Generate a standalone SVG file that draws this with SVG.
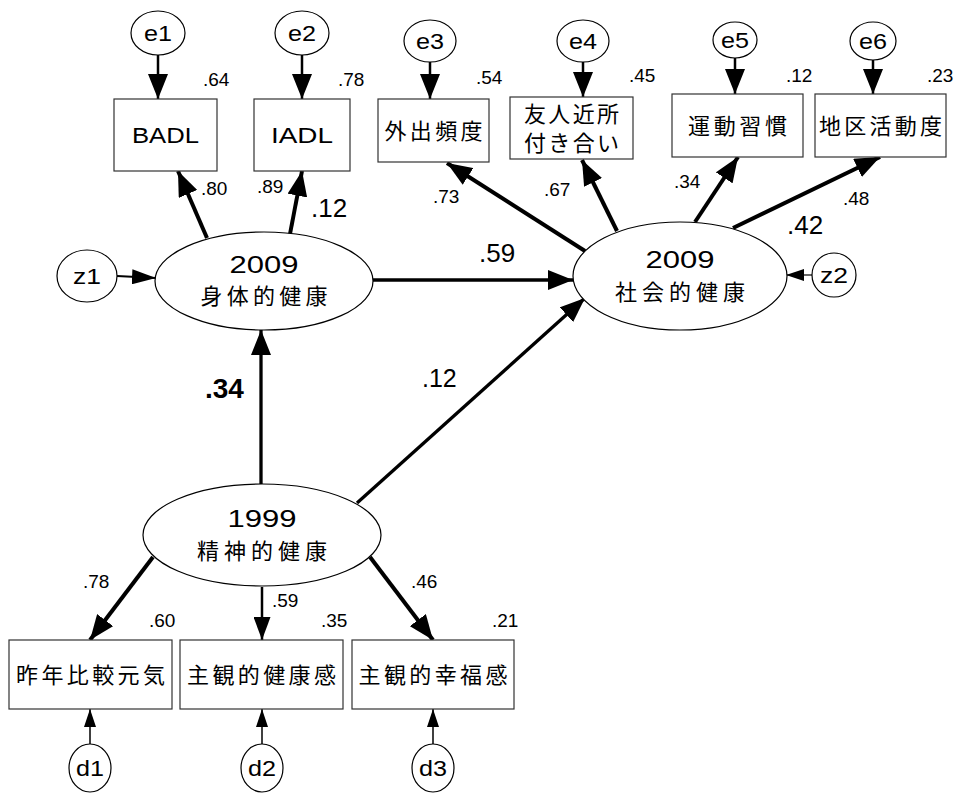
<svg xmlns="http://www.w3.org/2000/svg" width="957" height="794" viewBox="0 0 957 794">
<style>
.bg{fill:#fff}
.box{fill:#fff;stroke:#333;stroke-width:1.2}
.lat{fill:#fff;stroke:#000;stroke-width:1.2}
.jp{font-family:"Noto Sans CJK JP","Liberation Sans",sans-serif;font-size:22px;fill:#000;text-anchor:middle}
.lt{font-family:"Liberation Sans","DejaVu Sans",sans-serif;fill:#000}
.mid{text-anchor:middle}
.cl{font-size:22px;text-anchor:middle}
.sm{font-size:19px}
.lg{font-size:26px}
.a{fill:none;stroke:#000}
.w4{stroke-width:4}
.w3{stroke-width:3.3}
.w25{stroke-width:2.5}
.w15{stroke-width:1.5}
</style>
<defs>
<marker id="hb" markerUnits="userSpaceOnUse" viewBox="0 0 25 20" refX="25" refY="10" markerWidth="25" markerHeight="20" orient="auto"><path d="M0,0 L25,10 L0,20 z" fill="#000"/></marker>
<marker id="hm" markerUnits="userSpaceOnUse" viewBox="0 0 23 17" refX="23" refY="8.5" markerWidth="23" markerHeight="17" orient="auto"><path d="M0,0 L23,8.5 L0,17 z" fill="#000"/></marker>
<marker id="hz" markerUnits="userSpaceOnUse" viewBox="0 0 24 15" refX="24" refY="7.5" markerWidth="24" markerHeight="15" orient="auto"><path d="M0,0 L24,7.5 L0,15 z" fill="#000"/></marker>
<marker id="hs" markerUnits="userSpaceOnUse" viewBox="0 0 18 12" refX="18" refY="6" markerWidth="18" markerHeight="12" orient="auto"><path d="M0,0 L18,6 L0,12 z" fill="#000"/></marker>
</defs>
<rect class="bg" x="0" y="0" width="957" height="794"/>

<g id="connectors">
<line class="a w25" x1="158" y1="55" x2="158" y2="99" marker-end="url(#hb)"/>
<line class="a w25" x1="302" y1="55" x2="302" y2="99" marker-end="url(#hb)"/>
<line class="a w25" x1="430" y1="62" x2="430" y2="99" marker-end="url(#hb)"/>
<line class="a w25" x1="583" y1="62" x2="583" y2="97" marker-end="url(#hb)"/>
<line class="a w25" x1="735" y1="58" x2="735" y2="94" marker-end="url(#hb)"/>
<line class="a w25" x1="873" y1="60" x2="873" y2="94" marker-end="url(#hb)"/>
<line class="a w4" x1="207" y1="238" x2="178" y2="171" marker-end="url(#hb)"/>
<line class="a w4" x1="290" y1="234" x2="302" y2="171" marker-end="url(#hb)"/>
<line class="a w4" x1="585" y1="251" x2="447" y2="163" marker-end="url(#hb)"/>
<line class="a w4" x1="617" y1="231" x2="582" y2="160" marker-end="url(#hb)"/>
<line class="a w4" x1="695" y1="222" x2="738" y2="157" marker-end="url(#hb)"/>
<line class="a w4" x1="733" y1="228" x2="880" y2="157" marker-end="url(#hb)"/>
<line class="a" stroke-width="2" x1="117" y1="276" x2="156" y2="278" marker-end="url(#hz)"/>
<line class="a" stroke-width="1.2" x1="812" y1="275" x2="786" y2="275" marker-end="url(#hs)"/>
<line class="a w3" x1="373" y1="280" x2="573" y2="280" marker-end="url(#hb)"/>
<line class="a w3" x1="261" y1="484" x2="261" y2="330" marker-end="url(#hb)"/>
<line class="a w3" x1="357" y1="503" x2="585" y2="298" marker-end="url(#hb)"/>
<line class="a w4" x1="153" y1="557" x2="90" y2="640" marker-end="url(#hb)"/>
<line class="a w25" x1="262" y1="587" x2="262" y2="640" marker-end="url(#hm)"/>
<line class="a w4" x1="370" y1="557" x2="433" y2="640" marker-end="url(#hb)"/>
<line class="a w15" x1="90" y1="744" x2="90" y2="709" marker-end="url(#hs)"/>
<line class="a w15" x1="262" y1="744" x2="262" y2="709" marker-end="url(#hs)"/>
<line class="a w15" x1="433" y1="744" x2="433" y2="709" marker-end="url(#hs)"/>
</g>

<g id="e1"><ellipse class="lat" cx="158" cy="33" rx="27" ry="22"/><text class="lt cl" x="158" y="41" textLength="28" lengthAdjust="spacingAndGlyphs">e1</text></g>
<g id="e2"><ellipse class="lat" cx="302" cy="33" rx="27" ry="22"/><text class="lt cl" x="302" y="41" textLength="28" lengthAdjust="spacingAndGlyphs">e2</text></g>
<g id="e3"><ellipse class="lat" cx="430" cy="41" rx="26" ry="21"/><text class="lt cl" x="430" y="49" textLength="28" lengthAdjust="spacingAndGlyphs">e3</text></g>
<g id="e4"><ellipse class="lat" cx="583" cy="41" rx="26" ry="21"/><text class="lt cl" x="583" y="49" textLength="28" lengthAdjust="spacingAndGlyphs">e4</text></g>
<g id="e5"><ellipse class="lat" cx="735" cy="40" rx="22" ry="18"/><text class="lt cl" x="735" y="48" textLength="28" lengthAdjust="spacingAndGlyphs">e5</text></g>
<g id="e6"><ellipse class="lat" cx="873" cy="41" rx="23" ry="19"/><text class="lt cl" x="873" y="49" textLength="28" lengthAdjust="spacingAndGlyphs">e6</text></g>

<g id="BADL"><rect class="box" x="114" y="99" width="103" height="72"/><text class="lt mid" font-size="22" x="165.5" y="143" textLength="67" lengthAdjust="spacingAndGlyphs">BADL</text></g>
<g id="IADL"><rect class="box" x="254" y="99" width="96" height="72"/><text class="lt mid" font-size="22" x="302" y="143" textLength="62" lengthAdjust="spacingAndGlyphs">IADL</text></g>
<g id="gaishutsu"><rect class="box" x="378" y="99" width="111" height="63"/><text class="jp" x="433.5" y="139" textLength="98" lengthAdjust="spacing">外出頻度</text></g>
<g id="yujin"><rect class="box" x="510" y="97" width="123" height="62"/><text class="jp" font-size="19.5" x="571.5" y="122" textLength="95" lengthAdjust="spacing">友人近所</text><text class="jp" font-size="19.5" x="571.5" y="151" textLength="95" lengthAdjust="spacing">付き合い</text></g>
<g id="undo"><rect class="box" x="672" y="94" width="131" height="63"/><text class="jp" x="737.5" y="134" textLength="99" lengthAdjust="spacing">運動習慣</text></g>
<g id="chiku"><rect class="box" x="815" y="94" width="131" height="63"/><text class="jp" x="880.5" y="134" textLength="123" lengthAdjust="spacing">地区活動度</text></g>

<g id="z1"><ellipse class="lat" cx="87" cy="276" rx="30" ry="26"/><text class="lt cl" x="87" y="284" textLength="28" lengthAdjust="spacingAndGlyphs">z1</text></g>
<g id="z2"><ellipse class="lat" cx="834" cy="275" rx="22" ry="22"/><text class="lt cl" x="834" y="283" textLength="28" lengthAdjust="spacingAndGlyphs">z2</text></g>

<g id="shintai"><ellipse class="lat" cx="264" cy="281" rx="109" ry="49"/><text class="lt mid" font-size="24" x="264" y="273" textLength="69" lengthAdjust="spacingAndGlyphs">2009</text><text class="jp" x="264" y="304" textLength="127" lengthAdjust="spacing">身体的健康</text></g>
<g id="shakai"><ellipse class="lat" cx="680" cy="276" rx="107" ry="54"/><text class="lt mid" font-size="24" x="680" y="268" textLength="69" lengthAdjust="spacingAndGlyphs">2009</text><text class="jp" x="680" y="300" textLength="130" lengthAdjust="spacing">社会的健康</text></g>
<g id="seishin"><ellipse class="lat" cx="262" cy="535" rx="119" ry="51"/><text class="lt mid" font-size="24" x="262" y="527" textLength="69" lengthAdjust="spacingAndGlyphs">1999</text><text class="jp" x="262" y="559" textLength="130" lengthAdjust="spacing">精神的健康</text></g>

<g id="sakunen"><rect class="box" x="9" y="640" width="163" height="69"/><text class="jp" x="90.5" y="683" textLength="149" lengthAdjust="spacing">昨年比較元気</text></g>
<g id="kenkokan"><rect class="box" x="180" y="640" width="163" height="69"/><text class="jp" x="261.5" y="683" textLength="149" lengthAdjust="spacing">主観的健康感</text></g>
<g id="kofukukan"><rect class="box" x="352" y="640" width="162" height="69"/><text class="jp" x="433" y="683" textLength="149" lengthAdjust="spacing">主観的幸福感</text></g>

<g id="d1"><ellipse class="lat" cx="90" cy="768" rx="21" ry="24"/><text class="lt cl" x="90" y="776" textLength="28" lengthAdjust="spacingAndGlyphs">d1</text></g>
<g id="d2"><ellipse class="lat" cx="262" cy="768" rx="21" ry="24"/><text class="lt cl" x="262" y="776" textLength="28" lengthAdjust="spacingAndGlyphs">d2</text></g>
<g id="d3"><ellipse class="lat" cx="433" cy="768" rx="21" ry="24"/><text class="lt cl" x="433" y="776" textLength="28" lengthAdjust="spacingAndGlyphs">d3</text></g>

<g id="labels" class="lt">
<text class="sm" x="203" y="86">.64</text>
<text class="sm" x="338" y="86">.78</text>
<text class="sm" x="476" y="84">.54</text>
<text class="sm" x="629" y="82">.45</text>
<text class="sm" x="786" y="82">.12</text>
<text class="sm" x="927" y="82">.23</text>
<text class="sm" x="201" y="195">.80</text>
<text class="sm" x="257" y="193">.89</text>
<text class="lg" x="311" y="217">.12</text>
<text class="sm" x="433" y="203">.73</text>
<text class="sm" x="544" y="196">.67</text>
<text class="sm" x="674" y="188">.34</text>
<text class="sm" x="843" y="205">.48</text>
<text class="lg" x="787" y="234">.42</text>
<text class="lg" x="479" y="262">.59</text>
<text x="205" y="398" font-size="28" font-weight="bold">.34</text>
<text x="422" y="387" font-size="25">.12</text>
<text class="sm" x="83" y="588">.78</text>
<text class="sm" x="272" y="607">.59</text>
<text class="sm" x="411" y="588">.46</text>
<text class="sm" x="149" y="627">.60</text>
<text class="sm" x="321" y="627">.35</text>
<text class="sm" x="492" y="627">.21</text>
</g>
</svg>
